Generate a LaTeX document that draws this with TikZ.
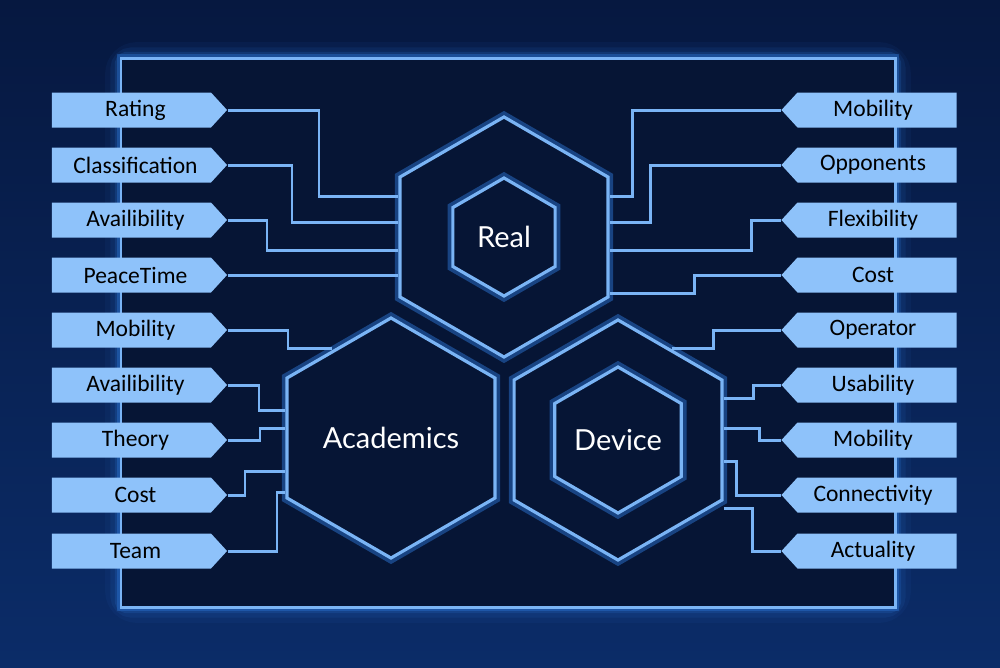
\documentclass[tikz,border=0pt]{standalone}
\usepackage{fontspec}
\setmainfont{Carlito}
\newfontfamily\hexfont{Lato}
\usepackage{tikz}
\usetikzlibrary{shapes.geometric,shapes.symbols,positioning,calc}
\definecolor{bgtop}{HTML}{061840}
\definecolor{bgbot}{HTML}{0B2C68}
\definecolor{panel}{HTML}{061535}
\definecolor{neon}{HTML}{7AB4F5}
\definecolor{glow}{HTML}{2F7DE0}
\definecolor{tag}{HTML}{8EC2FA}
\tikzset{>=stealth,
  wire/.style={draw=neon,line width=1.7pt},
  hexa/.style={regular polygon,regular polygon sides=6,shape border rotate=30,inner sep=0pt,
    fill=panel,draw=neon,line width=1.8pt,text=white,font=\hexfont\fontsize{16.5}{18}\selectfont,
    preaction={draw=glow,line width=6pt,draw opacity=.45}},
  tagL/.style={signal,signal to=east,signal from=nowhere,signal pointer angle=95,fill=tag,
    text width=31.8mm,align=center,inner xsep=0pt,minimum height=7mm,
    font=\fontsize{13.4}{15}\selectfont,text=black},
  tagR/.style={tagL,signal to=west}
}
\begin{document}
\begin{tikzpicture}[x=0.2mm,y=-0.2mm]
  \useasboundingbox (0,0) rectangle (1000,667);
  \shade[top color=bgtop,bottom color=bgbot] (0,0) rectangle (1000,667);
  \draw[glow,line width=18pt,opacity=.06,rounded corners=9pt] (121,58) rectangle (895,607);
  \draw[glow,line width=12pt,opacity=.10,rounded corners=6pt] (121,58) rectangle (895,607);
  \draw[glow,line width=7pt,opacity=.18,rounded corners=3pt] (121,58) rectangle (895,607);
  \draw[glow,line width=4pt,opacity=.35] (121,58) rectangle (895,607);
  \draw[neon,fill=panel,line width=1.7pt] (121,58) rectangle (895,607);

  \node[hexa,minimum size=48mm] (real) at (504,237) {};
  \node[hexa,minimum size=23.6mm] (realin) at (504,237) {Real};
  \node[hexa,minimum size=48mm] (acad) at (391,438) {Academics};
  \node[hexa,minimum size=48mm] (dev) at (618,440) {};
  \node[hexa,minimum size=29.2mm] (devin) at (618,440) {Device};

  \node[tagL] (lRating) at (131.5,110) {\hspace*{4.5pt}Rating};
  \node[tagL] (lClass) at (131.5,165) {\hspace*{4.5pt}Classification};
  \node[tagL] (lAvail) at (131.5,220) {\hspace*{4.5pt}Availibility};
  \node[tagL] (lPeace) at (131.5,275) {\hspace*{4.5pt}PeaceTime};
  \node[tagL] (lMobA) at (131.5,330) {\hspace*{4.5pt}Mobility};
  \node[tagL] (lAvailA) at (131.5,385) {\hspace*{4.5pt}Availibility};
  \node[tagL] (lTheory) at (131.5,440) {\hspace*{4.5pt}Theory};
  \node[tagL] (lCostA) at (131.5,495) {\hspace*{4.5pt}Cost};
  \node[tagL] (lTeam) at (131.5,551) {\hspace*{4.5pt}Team};

  \node[tagR] (rMob) at (877,110) {Mobility\hspace*{4.5pt}};
  \node[tagR] (rOpp) at (877,165) {Opponents\hspace*{4.5pt}};
  \node[tagR] (rFlex) at (877,220) {Flexibility\hspace*{4.5pt}};
  \node[tagR] (rCost) at (877,275) {Cost\hspace*{4.5pt}};
  \node[tagR] (rOper) at (877,330) {Operator\hspace*{4.5pt}};
  \node[tagR] (rUsab) at (877,385) {Usability\hspace*{4.5pt}};
  \node[tagR] (rMobD) at (877,440) {Mobility\hspace*{4.5pt}};
  \node[tagR] (rConn) at (877,495) {Connectivity\hspace*{4.5pt}};
  \node[tagR] (rAct) at (877,551) {Actuality\hspace*{4.5pt}};

  \draw[wire] (lRating.east) -| (319,196) -- (real.west |- 0,196);
  \draw[wire] (lClass.east) -| (292,222) -- (real.west |- 0,222);
  \draw[wire] (lAvail.east) -| (267,250) -- (real.west |- 0,250);
  \draw[wire] (lPeace.east) -- (real.west |- lPeace.east);
  \draw[wire] (lMobA.east) -| (288,348) -- (acad.124 |- 0,348);
  \draw[wire] (lAvailA.east) -| (259,410) -- (acad.west |- 0,410);
  \draw[wire] (lTheory.east) -| (260,428) -- (acad.west |- 0,428);
  \draw[wire] (lCostA.east) -| (245,471) -- (acad.west |- 0,471);
  \draw[wire] (lTeam.east) -| (277,492) -- (acad.west |- 0,492);

  \draw[wire] (rMob.west) -| (632,196) -- (real.east |- 0,196);
  \draw[wire] (rOpp.west) -| (650,222) -- (real.east |- 0,222);
  \draw[wire] (rFlex.west) -| (751,250) -- (real.east |- 0,250);
  \draw[wire] (rCost.west) -| (694,293) -- (real.east |- 0,293);
  \draw[wire] (rOper.west) -| (713,348) -- (dev.59 |- 0,348);
  \draw[wire] (rUsab.west) -| (753,398) -- (dev.east |- 0,398);
  \draw[wire] (rMobD.west) -| (759,428) -- (dev.east |- 0,428);
  \draw[wire] (rConn.west) -| (736,461) -- (dev.east |- 0,461);
  \draw[wire] (rAct.west) -| (752,508) -- (dev.east |- 0,508);
\end{tikzpicture}
\end{document}
